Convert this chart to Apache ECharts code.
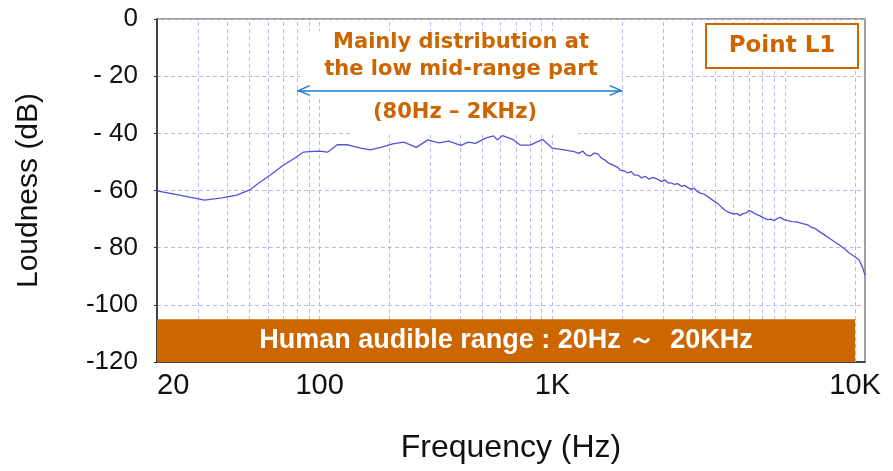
<!DOCTYPE html>
<html>
<head>
<meta charset="utf-8">
<script src="https://cdn.jsdelivr.net/npm/echarts@6/dist/echarts.min.js"></script>
<style>html,body{margin:0;padding:0;background:#fff}#c{width:893px;height:471px}</style>
</head>
<body>
<div id="c"></div>
<script>
// Frequency (Hz) of each sampled point of the measured curve
const freqs = [20, 25, 32, 38, 44, 50, 55, 62, 70, 78, 85, 94, 100, 108, 114, 119, 132, 150, 165, 185,
  206, 230, 260, 292, 325, 358, 404, 436, 467, 516, 559, 580, 611, 674, 728, 803, 906, 1000, 1090, 1240,
  1300, 1350, 1400, 1459, 1510, 1570, 1620, 1680, 1740, 1824, 1900, 1960, 2030, 2100, 2180, 2250, 2330,
  2420, 2500, 2600, 2700, 2840, 2950, 3050, 3150, 3230, 3350, 3450, 3600, 3700, 3810, 3950, 4050, 4210,
  4350, 4500, 4700, 4850, 5000, 5150, 5340, 5500, 5700, 6020, 6200, 6390, 6600, 6850, 7000, 7190, 7450,
  7800, 8100, 8400, 8700, 8950, 9250, 9530, 9900, 10300, 10700, 11200, 11800, 12500, 13000, 13400, 14000,
  14800, 15500, 16300, 17100, 18000, 18800, 19800, 20800, 21500, 22050];
// Loudness (dB) at each frequency above
const loudness = [-60.1, -61.6, -63.4, -62.6, -61.6, -59.8, -57.3, -54.3, -51.1, -48.7, -46.6, -46.3, -46.2, -46.6, -45.2, -44.0, -44.0, -45.2, -45.8, -44.8,
  -43.7, -43.1, -44.9, -42.3, -43.3, -42.7, -44.2, -43.1, -43.5, -41.7, -40.9, -42.3, -40.8, -42.1, -44.1, -44.1, -42.1, -45.2, -45.6, -46.4,
  -47.0, -46.2, -47.6, -47.9, -46.9, -47.2, -48.6, -49.3, -50.4, -51.1, -51.8, -52.9, -53.1, -53.8, -53.4, -54.6, -54.6,
  -55.6, -55.0, -56.0, -55.4, -56.1, -56.9, -56.3, -57.4, -57.3, -57.9, -57.6, -58.6, -58.2, -58.9, -59.6, -59.2, -60.4,
  -61.0, -61.3, -62.4, -63.2, -64.0, -64.6, -65.9, -66.8, -67.6, -68.3, -68.0, -68.8, -68.1, -67.7, -67.0, -67.4, -68.2,
  -68.9, -69.6, -70.2, -70.0, -70.6, -69.8, -69.4, -70.2, -70.5, -70.9, -71.0, -71.5, -72.0, -72.9, -73.2, -74.3,
  -75.6, -76.7, -77.9, -79.1, -80.4, -81.8, -83.0, -84.3, -86.8, -89.6];

// Axis settings
const xMin = 20, xMax = 22050;
const yMin = -120, yMax = 0, yStep = 20;
// Vertical grid-line frequencies
const gridFreqs = [30, 40, 50, 60, 70, 80, 90, 100, 200, 300, 400, 500, 600, 700, 800, 900, 1000,
  2000, 3000, 4000, 5000, 6000, 7000, 8000, 9000, 10000, 20000];
const tickFreqs = [20].concat(gridFreqs);
// Tick label positions and texts (as printed in the chart)
const xLabelValues = [20, 100, 1000, 20000];
const xLabelTexts = ['20', '100', '1K', '10K'];
// Annotations
const audibleRange = [20, 20000];
const audibleBand = [-105, -120];
const audibleText = 'Human audible range : 20Hz ～  20KHz';
const mainRange = [80, 2000];
const arrowLevel = -25;
const noteLines = 'Mainly distribution at\nthe low mid-range part';
const noteRange = '(80Hz – 2KHz)';
const pointName = 'Point L1';

const orange = '#CC6600';
const gridColor = '#b9b9f5';
// open chevron whose tip sits at the centre of its bounding box
const chevron = 'path://M6,-12 L6.02,-12 L6,-11.98 Z M0,12 L6,0 L12,12 L10.6,12.6 L6,3.2 L1.4,12.6 Z';

const chart = echarts.init(document.getElementById('c'), null, {renderer: 'canvas'});
chart.setOption({
  animation: false,
  backgroundColor: '#ffffff',
  grid: {left: 157, top: 19, right: 28, bottom: 109, show: true, borderColor: '#7f7f7f', borderWidth: 1.5, backgroundColor: 'transparent'},
  xAxis: {
    type: 'log', logBase: 10, min: xMin, max: xMax,
    name: 'Frequency (Hz)', nameLocation: 'middle', nameGap: 70,
    nameTextStyle: {fontFamily: 'Liberation Sans', fontSize: 32, color: '#111'},
    axisLine: {show: true, onZero: false, lineStyle: {color: '#222', width: 1.5}},
    axisTick: {show: true, inside: true, length: 3, customValues: tickFreqs, lineStyle: {color: '#333'}},
    splitLine: {show: false},
    minorTick: {show: false},
    axisLabel: {
      customValues: xLabelValues, margin: 9, alignMinLabel: 'left',
      fontFamily: 'Liberation Sans', fontSize: 29, color: '#111',
      formatter: function (v) {
        for (let i = 0; i < xLabelValues.length; i++) {
          if (Math.abs(v - xLabelValues[i]) / xLabelValues[i] < 0.01) return xLabelTexts[i];
        }
        return '';
      }
    }
  },
  yAxis: {
    type: 'value', min: yMin, max: yMax, interval: yStep,
    name: 'Loudness (dB)', nameLocation: 'middle', nameGap: 113, nameRotate: 90,
    nameTextStyle: {fontFamily: 'Liberation Sans', fontSize: 30, color: '#111'},
    axisLine: {show: true, lineStyle: {color: '#222', width: 1.5}},
    axisTick: {show: true, inside: false, length: 3, lineStyle: {color: '#333'}},
    splitLine: {show: true, lineStyle: {color: gridColor, type: [4, 3], width: 1}},
    axisLabel: {
      margin: 19, fontFamily: 'Liberation Sans', fontSize: 26, color: '#111',
      formatter: function (v) { return v === 0 ? '0' : (v <= -100 ? String(v) : '- ' + Math.abs(v)); }
    }
  },
  series: [
    {
      type: 'line', name: 'grid', data: [], silent: true, z: 1,
      markLine: {
        silent: true, symbol: ['none', 'none'], z: 1, animation: false,
        label: {show: false},
        lineStyle: {color: gridColor, type: [4, 3], width: 1},
        data: gridFreqs.map(f => ({xAxis: f}))
      },
      markArea: {
        silent: true, z: 3,
        itemStyle: {color: orange},
        label: {show: true, position: 'inside', color: '#fff', fontFamily: 'Liberation Sans', fontWeight: 'bold', fontSize: 27, formatter: audibleText},
        data: [[{coord: [audibleRange[0], audibleBand[0]]}, {coord: [audibleRange[1], audibleBand[1]]}]]
      }
    },
    {
      type: 'line', name: 'Loudness', z: 4,
      data: freqs.map((f, i) => [f, loudness[i]]),
      showSymbol: false, symbol: 'none',
      lineStyle: {color: '#5252d9', width: 1.3},
      markLine: {
        silent: true, z: 6, animation: false,
        symbol: [chevron, chevron], symbolSize: [11, 26],
        label: {show: false},
        lineStyle: {color: '#1f7ad0', width: 1.5, type: 'solid'},
        data: [[{coord: [mainRange[0], arrowLevel]}, {coord: [mainRange[1], arrowLevel]}]]
      }
    }
  ],
  graphic: [
    {type: 'rect', z: 5, silent: true, shape: {x: 300, y: 31, width: 321, height: 67}, style: {fill: '#fff'}},
    {type: 'rect', z: 5, silent: true, shape: {x: 353, y: 98, width: 225, height: 37}, style: {fill: '#fff'}},
    {type: 'rect', z: 5, silent: true, shape: {x: 706, y: 24, width: 152, height: 44}, style: {fill: '#fff', stroke: orange, lineWidth: 2}},
    {type: 'text', z: 7, silent: true, x: 461, y: 56, style: {text: noteLines, fill: orange, font: 'bold 21px "DejaVu Sans"', align: 'center', verticalAlign: 'middle', lineHeight: 27}},
    {type: 'text', z: 7, silent: true, x: 455, y: 113, style: {text: noteRange, fill: orange, font: 'bold 21px "DejaVu Sans"', align: 'center', verticalAlign: 'middle'}},
    {type: 'text', z: 7, silent: true, x: 782, y: 46, style: {text: pointName, fill: orange, font: 'bold 23px "DejaVu Sans"', align: 'center', verticalAlign: 'middle'}}
  ]
});
</script>
</body>
</html>
